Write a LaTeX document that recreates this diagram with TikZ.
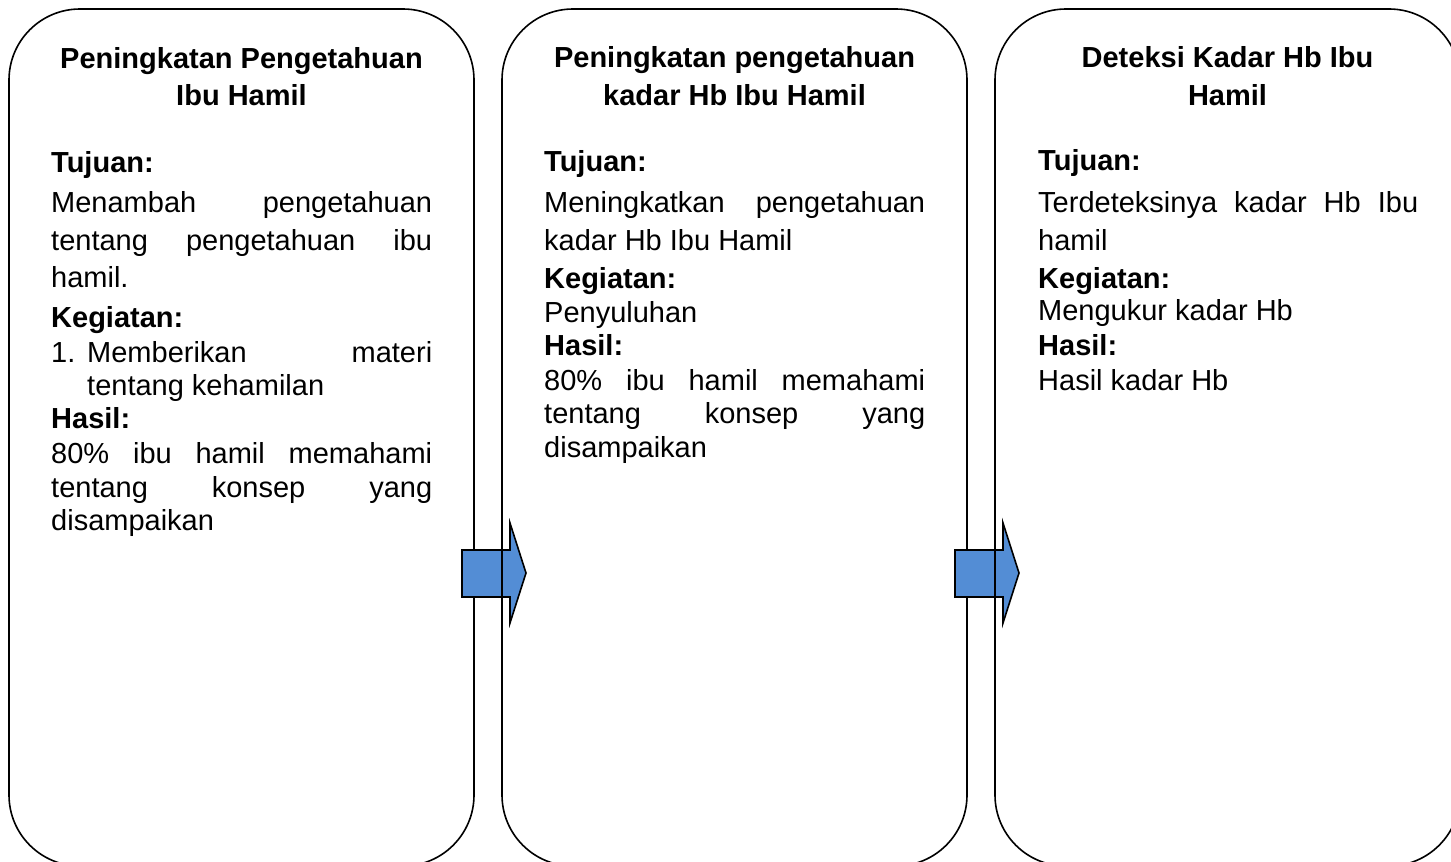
\documentclass[tikz,border=0pt]{standalone}
\usepackage{fontspec}
\setmainfont{Liberation Sans}
\definecolor{arrowblue}{HTML}{538DD5}
\tikzset{
  px/.style={x=1pt,y=-1pt},
  card/.style={draw=black,line width=1.6pt,rounded corners=71pt},
  blockarrow/.style={draw=black,line width=1.6pt,fill=arrowblue,line join=miter},
  ttl/.style={anchor=base,inner sep=0pt,font=\fontsize{29}{34}\selectfont\bfseries},
  hd/.style={anchor=base west,inner sep=0pt,font=\fontsize{29}{34}\selectfont\bfseries},
  txt/.style={anchor=base west,inner sep=0pt,font=\fontsize{29}{34}\selectfont},
}
\newcommand{\jline}[2]{\hbox to #1{#2}}
\begin{document}
\begin{tikzpicture}[px]
\useasboundingbox (0,0) rectangle (1451,862);
\clip (0,0) rectangle (1451,862);
\fill[white] (0,0) rectangle (1451,862);
% box 1
\draw[card] (9,9) rectangle (474,866);
\coordinate (b1) at (9,9);
% arrow 1
\draw[blockarrow] (462,550) -- (510,550) -- (510,523) -- (526,573) -- (510,623) -- (510,597) -- (462,597) -- cycle;
% box 2
\draw[card] (502,9) rectangle (967,866);
% arrow 2
\draw[blockarrow] (955,550) -- (1003,550) -- (1003,523) -- (1019,573) -- (1003,623) -- (1003,597) -- (955,597) -- cycle;
% box 3
\draw[card] (995,9) rectangle (1460,866);

% ---- box 1 text
\node[ttl] (t1a) at (241.5,68) {Peningkatan Pengetahuan};
\node[ttl] (t1b) at (241.5,105) {Ibu Hamil};
\node[hd] (h1a) at (51,172) {Tujuan:};
\node[txt] (l1a) at (51,212) {\jline{381pt}{Menambah\hfill pengetahuan}};
\node[txt] (l1b) at (51,250) {\jline{381pt}{tentang\hfill pengetahuan\hfill ibu}};
\node[txt] (l1c) at (51,287) {hamil.};
\node[hd] (h1b) at (51,327) {Kegiatan:};
\node[txt] (n1) at (51,362) {1.};
\node[txt] (l1d) at (87,362) {\jline{345pt}{Memberikan\hfill materi}};
\node[txt] (l1e) at (87,395) {tentang kehamilan};
\node[hd] (h1c) at (51,428) {Hasil:};
\node[txt] (l1f) at (51,463) {\jline{381pt}{80\%\hfill ibu\hfill hamil\hfill memahami}};
\node[txt] (l1g) at (51,497) {\jline{381pt}{tentang\hfill konsep\hfill yang}};
\node[txt] (l1h) at (51,530) {disampaikan};

% ---- box 2 text
\node[ttl] (t2a) at (734.5,67) {Peningkatan pengetahuan};
\node[ttl] (t2b) at (734.5,105) {kadar Hb Ibu Hamil};
\node[hd] (h2a) at (544,171) {Tujuan:};
\node[txt] (l2a) at (544,212) {\jline{381pt}{Meningkatkan\hfill pengetahuan}};
\node[txt] (l2b) at (544,250) {kadar Hb Ibu Hamil};
\node[hd] (h2b) at (544,288) {Kegiatan:};
\node[txt] (l2c) at (544,322) {Penyuluhan};
\node[hd] (h2c) at (544,355) {Hasil:};
\node[txt] (l2d) at (544,390) {\jline{381pt}{80\%\hfill ibu\hfill hamil\hfill memahami}};
\node[txt] (l2e) at (544,423) {\jline{381pt}{tentang\hfill konsep\hfill yang}};
\node[txt] (l2f) at (544,457) {disampaikan};

% ---- box 3 text
\node[ttl] (t3a) at (1227.5,67) {Deteksi Kadar Hb Ibu};
\node[ttl] (t3b) at (1227.5,105) {Hamil};
\node[hd] (h3a) at (1038,170) {Tujuan:};
\node[txt] (l3a) at (1038,212) {\jline{380pt}{Terdeteksinya\hfill kadar\hfill Hb\hfill Ibu}};
\node[txt] (l3b) at (1038,250) {hamil};
\node[hd] (h3b) at (1038,288) {Kegiatan:};
\node[txt] (l3c) at (1038,320) {Mengukur kadar Hb};
\node[hd] (h3c) at (1038,355) {Hasil:};
\node[txt] (l3d) at (1038,390) {Hasil kadar Hb};
\end{tikzpicture}
\end{document}
